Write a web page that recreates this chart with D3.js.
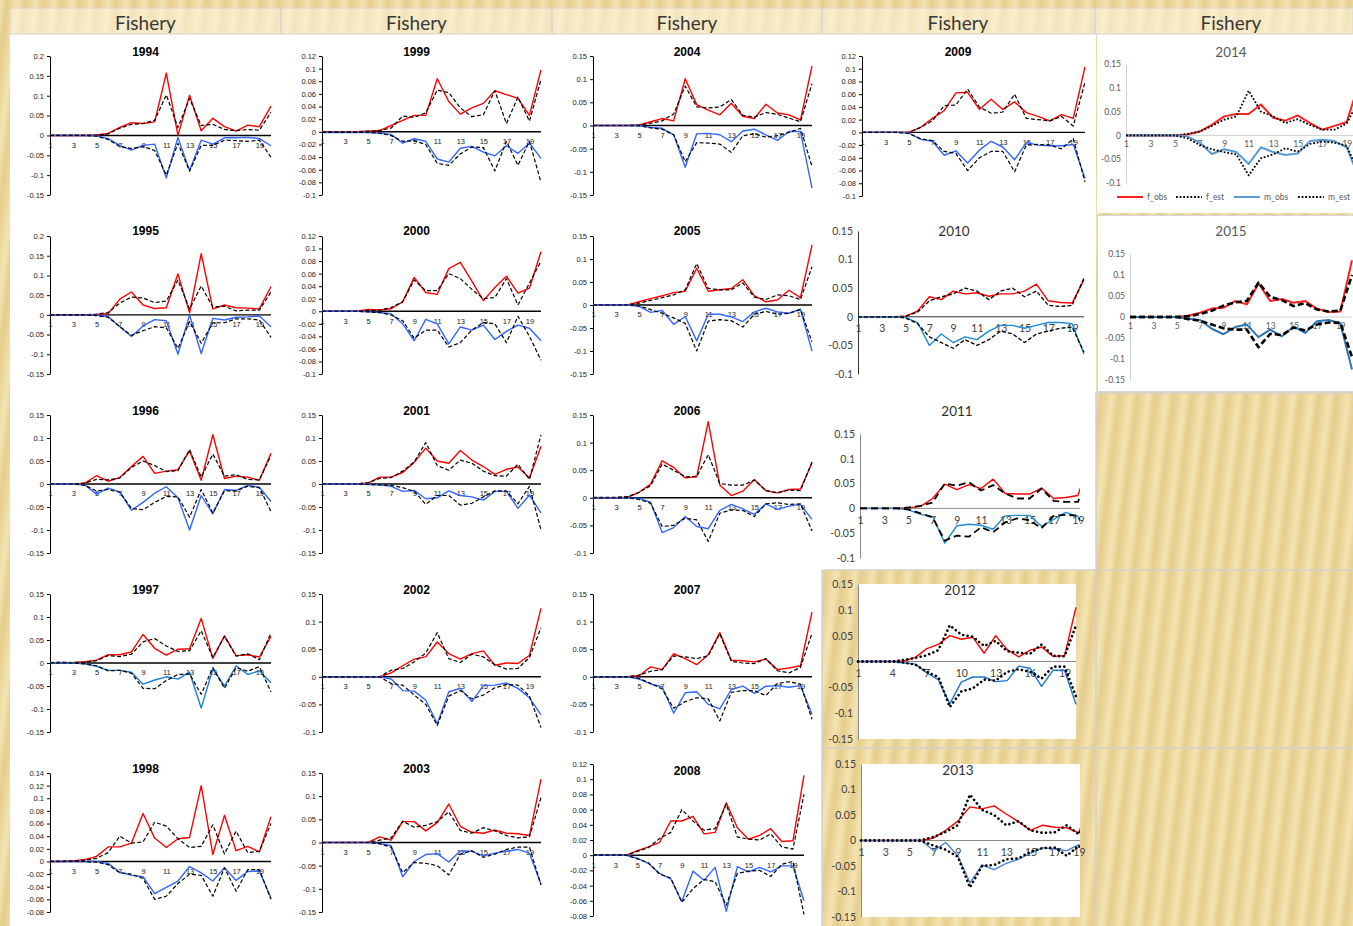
<!DOCTYPE html>
<html>
<head>
<meta charset="utf-8">
<script src="https://cdn.jsdelivr.net/npm/d3@7"></script>
<style>
  html, body { margin: 0; padding: 0; background: #ecd9a0; }
  svg { display: block; }
</style>
</head>
<body>
<svg id="chart" width="1353" height="926"></svg>
<script>
// ---------- data ----------
const years = [1994,1995,1996,1997,1998,1999,2000,2001,2002,2003,2004,2005,2006,2007,2008,2009,2010,2011,2012,2013,2014,2015];
const ages = [1,2,3,4,5,6,7,8,9,10,11,12,13,14,15,16,17,18,19,20];
const oddLabels = [1,3,5,7,9,11,13,15,17,19];
const everyThirdLabels = [1,4,7,10,13,16,19];
const seriesNames = ["f_obs","f_est","m_obs","m_est"];
const headerText = "Fishery";

const yMax  = [0.2,0.2,0.15,0.15,0.14,0.12,0.12,0.15,0.15,0.15,0.15,0.15,0.15,0.15,0.12,0.12,0.15,0.15,0.15,0.15,0.15,0.15];
const yMin  = [-0.15,-0.15,-0.15,-0.15,-0.08,-0.1,-0.1,-0.15,-0.1,-0.15,-0.15,-0.15,-0.1,-0.1,-0.08,-0.1,-0.1,-0.1,-0.15,-0.15,-0.1,-0.15];
const yStep = [0.05,0.05,0.05,0.05,0.02,0.02,0.02,0.05,0.05,0.05,0.05,0.05,0.05,0.05,0.02,0.02,0.05,0.05,0.05,0.05,0.05,0.05];

// female observed proportions, one row per year
const fObs = [
  [0,0,0,0,0.001,0.005,0.02,0.032,0.03,0.034,0.157,0.0,0.101,0.012,0.043,0.022,0.011,0.026,0.022,0.074],
  [0,0,0,0,0.001,0.003,0.04,0.058,0.025,0.016,0.018,0.104,0.005,0.155,0.015,0.025,0.018,0.017,0.015,0.072],
  [0,0,0,0.002,0.018,0.006,0.014,0.038,0.06,0.023,0.028,0.031,0.072,0.008,0.107,0.012,0.017,0.015,0.008,0.067],
  [0,0,0.001,0.003,0.006,0.018,0.018,0.024,0.062,0.032,0.017,0.03,0.031,0.097,0.01,0.059,0.016,0.018,0.013,0.058],
  [0,0,0.001,0.003,0.008,0.023,0.023,0.029,0.076,0.037,0.022,0.036,0.038,0.12,0.011,0.073,0.017,0.024,0.015,0.071],
  [0,0,0,0,0.001,0.002,0.01,0.018,0.026,0.026,0.084,0.048,0.028,0.038,0.045,0.065,0.059,0.053,0.026,0.098],
  [0,0,0,0,0.003,0.002,0.004,0.015,0.054,0.03,0.027,0.068,0.078,0.048,0.017,0.038,0.056,0.029,0.037,0.095],
  [0,0,0,0,0.002,0.015,0.015,0.025,0.047,0.078,0.05,0.045,0.073,0.052,0.038,0.021,0.032,0.037,0.013,0.082],
  [0,0,0,0,0,0,0.007,0.02,0.032,0.036,0.063,0.042,0.032,0.042,0.047,0.021,0.025,0.024,0.039,0.124],
  [0,0,0,0,0,0.012,0.005,0.045,0.045,0.025,0.043,0.083,0.035,0.022,0.02,0.027,0.02,0.019,0.015,0.137],
  [0,0,0,0,0.001,0.008,0.015,0.01,0.101,0.045,0.033,0.023,0.048,0.02,0.015,0.046,0.027,0.023,0.012,0.128],
  [0,0,0,0,0.007,0.014,0.02,0.027,0.03,0.08,0.03,0.033,0.036,0.055,0.02,0.007,0.011,0.032,0.016,0.13],
  [0,0,0,0.001,0.01,0.025,0.067,0.055,0.036,0.038,0.138,0.023,0.004,0.012,0.033,0.013,0.009,0.015,0.016,0.063],
  [0,0,0,0,0.002,0.018,0.013,0.042,0.033,0.022,0.04,0.08,0.03,0.029,0.027,0.032,0.013,0.016,0.02,0.117],
  [0,0,0,0,0.006,0.011,0.017,0.045,0.045,0.051,0.028,0.03,0.069,0.036,0.021,0.026,0.035,0.018,0.019,0.105],
  [0,0,0,0,0,0.008,0.022,0.034,0.062,0.063,0.036,0.052,0.036,0.048,0.031,0.025,0.018,0.028,0.022,0.103],
  [0,0,0,0,0.001,0.01,0.035,0.03,0.045,0.04,0.042,0.036,0.04,0.04,0.045,0.057,0.028,0.025,0.024,0.065],
  [0,0,0,0,0.001,0.004,0.02,0.049,0.038,0.048,0.04,0.059,0.03,0.029,0.029,0.041,0.02,0.022,0.026,0.1],
  [0,0,0,0,0.001,0.008,0.025,0.033,0.05,0.043,0.047,0.016,0.05,0.023,0.009,0.022,0.028,0.01,0.011,0.105],
  [0,0,0,0,0,0,0.005,0.02,0.038,0.066,0.062,0.068,0.052,0.037,0.02,0.03,0.026,0.025,0.015,0.09],
  [0,0,0,0,0,0.002,0.008,0.022,0.04,0.045,0.045,0.065,0.037,0.031,0.042,0.026,0.012,0.02,0.028,0.11],
  [0,0,0,0,0,0.003,0.01,0.02,0.022,0.038,0.03,0.08,0.038,0.043,0.034,0.038,0.02,0.012,0.013,0.135]
];
// female estimated proportions
const fEst = [
  [0,0,0,0,0.001,0.004,0.018,0.028,0.03,0.038,0.102,0.02,0.093,0.025,0.028,0.015,0.012,0.015,0.013,0.058],
  [0,0,0,0,0.002,0.006,0.03,0.045,0.043,0.031,0.035,0.088,0.015,0.073,0.02,0.022,0.01,0.012,0.012,0.058],
  [0,0,0,0.002,0.01,0.009,0.013,0.036,0.05,0.04,0.027,0.029,0.075,0.015,0.065,0.017,0.02,0.01,0.009,0.062],
  [0.001,0.002,0.001,0.002,0.005,0.016,0.014,0.019,0.046,0.053,0.037,0.025,0.027,0.07,0.012,0.058,0.015,0.02,0.007,0.066],
  [0,0,0.001,0.002,0.005,0.014,0.04,0.029,0.031,0.062,0.056,0.036,0.022,0.024,0.058,0.012,0.048,0.014,0.016,0.06],
  [0,0,0,0,0.001,0.002,0.006,0.025,0.023,0.03,0.066,0.062,0.038,0.024,0.027,0.065,0.013,0.055,0.017,0.083],
  [0,0,0,0,0.001,0.002,0.006,0.015,0.05,0.033,0.033,0.06,0.052,0.035,0.02,0.022,0.052,0.01,0.045,0.08],
  [0,0,0,0,0.003,0.012,0.014,0.028,0.048,0.09,0.04,0.03,0.052,0.045,0.028,0.018,0.017,0.043,0.01,0.107],
  [0,0,0,0,0,0,0.012,0.015,0.027,0.043,0.08,0.033,0.026,0.041,0.036,0.022,0.014,0.015,0.035,0.089],
  [0,0,0,0,0,0.005,0.01,0.046,0.033,0.037,0.045,0.066,0.026,0.02,0.032,0.025,0.015,0.01,0.012,0.097],
  [0,0,0,0,0.001,0.005,0.01,0.025,0.085,0.04,0.038,0.04,0.056,0.022,0.018,0.028,0.024,0.016,0.008,0.09],
  [0,0,0,0.001,0.004,0.01,0.016,0.022,0.033,0.09,0.036,0.033,0.033,0.048,0.017,0.012,0.022,0.02,0.012,0.083],
  [0.001,0.001,0.001,0.002,0.01,0.022,0.061,0.05,0.038,0.039,0.078,0.026,0.023,0.023,0.032,0.013,0.009,0.014,0.013,0.065],
  [0,0,0,0,0.003,0.01,0.013,0.038,0.036,0.033,0.038,0.078,0.028,0.025,0.024,0.033,0.011,0.007,0.017,0.079],
  [0,0,0,0,0.005,0.01,0.022,0.03,0.06,0.045,0.033,0.035,0.067,0.024,0.021,0.02,0.028,0.011,0.008,0.08],
  [0,0,0,0,0,0.008,0.018,0.042,0.043,0.068,0.04,0.03,0.032,0.06,0.022,0.02,0.018,0.025,0.01,0.079],
  [0,0,0,0,0.001,0.008,0.028,0.035,0.04,0.05,0.045,0.03,0.045,0.05,0.035,0.045,0.02,0.018,0.02,0.068],
  [0,0,0,0,0.002,0.005,0.012,0.05,0.046,0.053,0.036,0.047,0.03,0.02,0.02,0.04,0.015,0.013,0.013,0.07],
  [0,0,0,0,0.003,0.007,0.012,0.022,0.07,0.052,0.048,0.03,0.04,0.02,0.017,0.015,0.033,0.011,0.01,0.07],
  [0,0,0,0,0,0.001,0.007,0.017,0.03,0.09,0.06,0.05,0.03,0.038,0.02,0.015,0.016,0.03,0.012,0.07],
  [0,0,0,0,0,0.003,0.008,0.02,0.033,0.04,0.094,0.05,0.04,0.026,0.034,0.022,0.012,0.012,0.025,0.075],
  [0,0,0,0,0,0.002,0.007,0.015,0.027,0.035,0.038,0.082,0.048,0.04,0.026,0.033,0.018,0.013,0.015,0.1]
];
// male observed proportions (plotted as negatives)
const mObs = [
  [0,0,0,0,-0.001,-0.008,-0.025,-0.037,-0.025,-0.022,-0.107,-0.005,-0.088,-0.012,-0.022,-0.006,-0.006,-0.005,-0.008,-0.026],
  [0,0,0,0,-0.001,-0.004,-0.03,-0.055,-0.028,-0.012,-0.015,-0.1,0,-0.098,-0.009,-0.013,-0.006,-0.005,-0.003,-0.03],
  [0,0,0,-0.002,-0.022,-0.009,-0.017,-0.057,-0.04,-0.02,-0.006,-0.03,-0.1,-0.025,-0.065,-0.012,-0.014,-0.003,-0.007,-0.038],
  [0,0,0,-0.002,-0.007,-0.016,-0.016,-0.02,-0.046,-0.037,-0.03,-0.035,-0.02,-0.098,-0.013,-0.05,-0.006,-0.025,-0.017,-0.043],
  [0,0,0,0,0,-0.003,-0.017,-0.022,-0.024,-0.051,-0.041,-0.031,-0.008,-0.018,-0.031,-0.01,-0.03,-0.016,-0.015,-0.058],
  [-0.001,-0.001,-0.001,-0.001,-0.001,-0.002,-0.004,-0.018,-0.011,-0.015,-0.043,-0.048,-0.026,-0.023,-0.032,-0.038,-0.022,-0.034,-0.018,-0.042],
  [0,0,0,0,-0.001,-0.002,-0.004,-0.02,-0.047,-0.013,-0.02,-0.052,-0.025,-0.03,-0.022,-0.045,-0.032,-0.022,-0.027,-0.047],
  [0,0,0,0,-0.001,-0.002,-0.005,-0.016,-0.014,-0.032,-0.03,-0.015,-0.025,-0.028,-0.035,-0.016,-0.016,-0.053,-0.024,-0.063],
  [0,0,0,0,0,0,-0.004,-0.025,-0.026,-0.042,-0.085,-0.027,-0.021,-0.045,-0.016,-0.015,-0.011,-0.021,-0.038,-0.069],
  [0,0,0,0,0,-0.002,-0.007,-0.074,-0.041,-0.026,-0.024,-0.042,-0.018,-0.019,-0.029,-0.023,-0.019,-0.015,-0.023,-0.09],
  [0,0,0,0,0,-0.004,-0.006,-0.02,-0.09,-0.018,-0.017,-0.02,-0.035,-0.012,-0.008,-0.02,-0.032,-0.013,-0.013,-0.135],
  [0,0,0,0,-0.003,-0.016,-0.012,-0.042,-0.025,-0.078,-0.02,-0.02,-0.026,-0.036,-0.015,-0.007,-0.015,-0.018,-0.009,-0.1],
  [0,0,0,0,-0.001,-0.008,-0.063,-0.054,-0.034,-0.052,-0.056,-0.023,-0.012,-0.02,-0.03,-0.011,-0.021,-0.015,-0.012,-0.039],
  [0,0,0,0,-0.004,-0.013,-0.018,-0.066,-0.029,-0.027,-0.05,-0.058,-0.023,-0.017,-0.03,-0.017,-0.016,-0.019,-0.016,-0.068],
  [0,0,0,0,-0.004,-0.011,-0.024,-0.031,-0.061,-0.021,-0.033,-0.016,-0.074,-0.015,-0.022,-0.016,-0.022,-0.014,-0.014,-0.06],
  [0,0,0,0,-0.001,-0.011,-0.014,-0.036,-0.029,-0.048,-0.028,-0.014,-0.023,-0.043,-0.016,-0.02,-0.021,-0.021,-0.019,-0.072],
  [0,0,0,0,-0.001,-0.01,-0.05,-0.03,-0.045,-0.035,-0.04,-0.025,-0.015,-0.015,-0.02,-0.015,-0.01,-0.01,-0.012,-0.065],
  [0,0,0,0,-0.003,-0.012,-0.016,-0.07,-0.035,-0.032,-0.034,-0.042,-0.015,-0.014,-0.014,-0.036,-0.022,-0.008,-0.016,-0.07],
  [0,0,0,0,-0.003,-0.005,-0.022,-0.035,-0.082,-0.04,-0.03,-0.03,-0.039,-0.037,-0.009,-0.013,-0.048,-0.017,-0.017,-0.083],
  [0,0,0,0,0,0,-0.02,-0.004,-0.03,-0.083,-0.048,-0.057,-0.045,-0.037,-0.025,-0.014,-0.017,-0.02,-0.008,-0.06],
  [0,0,0,0,0,-0.002,-0.015,-0.039,-0.029,-0.035,-0.06,-0.025,-0.035,-0.041,-0.038,-0.012,-0.009,-0.012,-0.025,-0.09],
  [0,0,0,0,0,-0.004,-0.007,-0.028,-0.041,-0.024,-0.018,-0.048,-0.03,-0.046,-0.023,-0.038,-0.01,-0.007,-0.015,-0.125]
];
// male estimated proportions (plotted as negatives)
const mEst = [
  [0,0,0,0,-0.002,-0.01,-0.028,-0.033,-0.028,-0.038,-0.1,-0.02,-0.09,-0.025,-0.025,-0.012,-0.013,-0.015,-0.012,-0.055],
  [0,0,0,0,-0.002,-0.006,-0.03,-0.052,-0.04,-0.03,-0.033,-0.085,-0.017,-0.072,-0.02,-0.02,-0.01,-0.01,-0.013,-0.057],
  [0,0,0,-0.003,-0.015,-0.012,-0.018,-0.053,-0.056,-0.04,-0.027,-0.028,-0.072,-0.012,-0.063,-0.015,-0.015,-0.005,-0.008,-0.06],
  [0,0,0,-0.002,-0.006,-0.017,-0.016,-0.022,-0.055,-0.056,-0.038,-0.025,-0.024,-0.068,-0.01,-0.055,-0.01,-0.018,-0.008,-0.063],
  [0,0,0,0,-0.001,-0.005,-0.018,-0.02,-0.027,-0.06,-0.055,-0.035,-0.02,-0.022,-0.055,-0.01,-0.047,-0.013,-0.013,-0.06],
  [-0.001,-0.001,-0.001,-0.001,-0.001,-0.002,-0.006,-0.015,-0.014,-0.02,-0.05,-0.053,-0.035,-0.024,-0.025,-0.062,-0.015,-0.053,-0.015,-0.08],
  [0,0,0,0,-0.001,-0.002,-0.006,-0.015,-0.043,-0.03,-0.03,-0.057,-0.05,-0.03,-0.018,-0.02,-0.05,-0.008,-0.04,-0.078],
  [0,0,0,0,-0.001,-0.002,-0.003,-0.008,-0.016,-0.044,-0.025,-0.025,-0.046,-0.042,-0.028,-0.015,-0.015,-0.043,-0.005,-0.1],
  [0,0,0,0,0,0,-0.012,-0.015,-0.033,-0.05,-0.088,-0.035,-0.025,-0.04,-0.033,-0.02,-0.014,-0.015,-0.035,-0.092],
  [0,0,0,0,0,-0.003,-0.01,-0.065,-0.043,-0.045,-0.05,-0.07,-0.025,-0.018,-0.032,-0.025,-0.015,-0.01,-0.01,-0.092],
  [0,0,0,0,-0.001,-0.005,-0.008,-0.02,-0.078,-0.037,-0.038,-0.04,-0.058,-0.022,-0.018,-0.025,-0.022,-0.015,-0.006,-0.088],
  [0,0,0,0,-0.002,-0.01,-0.018,-0.028,-0.04,-0.1,-0.035,-0.032,-0.034,-0.048,-0.02,-0.014,-0.02,-0.018,-0.01,-0.08],
  [0,0,0,0,-0.003,-0.01,-0.052,-0.05,-0.037,-0.04,-0.079,-0.028,-0.022,-0.023,-0.034,-0.011,-0.009,-0.012,-0.011,-0.06],
  [0,0,0,0,-0.003,-0.012,-0.022,-0.057,-0.045,-0.038,-0.04,-0.08,-0.028,-0.025,-0.025,-0.034,-0.012,-0.009,-0.013,-0.077],
  [0,0,0,0,-0.005,-0.01,-0.025,-0.03,-0.062,-0.044,-0.032,-0.035,-0.066,-0.024,-0.021,-0.02,-0.028,-0.012,-0.008,-0.078],
  [0,0,0,0,-0.002,-0.01,-0.013,-0.03,-0.033,-0.06,-0.04,-0.03,-0.03,-0.062,-0.02,-0.019,-0.02,-0.026,-0.01,-0.078],
  [0,0,0,0,-0.002,-0.012,-0.035,-0.045,-0.055,-0.04,-0.05,-0.04,-0.025,-0.03,-0.045,-0.03,-0.025,-0.02,-0.018,-0.062],
  [0,0,0,0,-0.002,-0.01,-0.018,-0.065,-0.055,-0.057,-0.038,-0.048,-0.028,-0.02,-0.024,-0.04,-0.015,-0.013,-0.015,-0.06],
  [0,0,0,0,-0.002,-0.006,-0.02,-0.03,-0.088,-0.058,-0.052,-0.035,-0.037,-0.02,-0.015,-0.02,-0.033,-0.01,-0.01,-0.068],
  [0,0,0,0,0,-0.001,-0.01,-0.018,-0.032,-0.092,-0.05,-0.048,-0.037,-0.035,-0.022,-0.015,-0.014,-0.03,-0.01,-0.06],
  [0,0,0,0,0,-0.006,-0.02,-0.029,-0.035,-0.04,-0.084,-0.048,-0.04,-0.027,-0.034,-0.018,-0.013,-0.015,-0.022,-0.08],
  [0,0,0,0,0,-0.005,-0.009,-0.018,-0.027,-0.03,-0.03,-0.072,-0.04,-0.043,-0.025,-0.032,-0.018,-0.013,-0.014,-0.095]
];

// ---------- layout ----------
const W = 1353, H = 926;
const cellCenterX = [145.5, 416.5, 687, 958, 1231];
const colAxisX = [50, 322, 593];
const colEndX = [271, 541, 812];
const rowTopY = [56, 236, 415, 594, 773];
const rowBotY = [195, 374, 553, 732, 912];
const rowTitleY = [52, 231, 411, 590, 769];

const frameOverrides = {
  2008: {x0: 593, x20: 804, yT: 764, yB: 916, tY: 771},
  2009: {x0: 862, x20: 1085, yT: 56, yB: 196},
  2010: {x0: 858, x20: 1084, yT: 231, yB: 374, tX: 954, tY: 231},
  2011: {x0: 860, x20: 1090, yT: 434, yB: 558, tX: 957, tY: 411, clipX: 1080},
  2012: {x0: 858, x20: 1076, yT: 584, yB: 739, tX: 960, tY: 590, box: [858, 584, 1076, 739]},
  2013: {x0: 861, x20: 1091, yT: 764, yB: 917, tX: 958, tY: 770, clipX: 1080, box: [861, 764, 1080, 917]},
  2014: {x0: 1126, x20: 1359, yT: 64, yB: 183, tX: 1231, tY: 52},
  2015: {x0: 1130, x20: 1352, yT: 254, yB: 380, tX: 1231, tY: 231}
};

function frameFor(i) {
  const yr = years[i];
  const col = Math.floor(i / 5), row = i % 5;
  const base = {
    x0: colAxisX[Math.min(col, 2)], x20: colEndX[Math.min(col, 2)],
    yT: rowTopY[row], yB: rowBotY[row],
    tX: cellCenterX[col], tY: rowTitleY[row]
  };
  return Object.assign(base, frameOverrides[yr] || {});
}

// ---------- styles ----------
const ARIAL = '"Liberation Sans", Arial, sans-serif';
const CALIBRI = 'Lato, "Open Sans", sans-serif';

function styleFor(yr) {
  if (yr <= 2009) {
    return {
      font: ARIAL, tickFont: 7.5, tickColor: "#222", axisColor: "#000", yTick: 3,
      titleFont: ARIAL, titleSize: 12, titleWeight: "bold", titleColor: "#000",
      xAxisWidth: 1.4, yAxisWidth: 1, xPad: 7,
      red: "#ff0000", blue: yr === 1997 ? "#1a7fd4" : "#3366ff", obsW: 1.4,
      est: {w: 1.2, dash: "4,2.2", cap: "butt"}, xLabels: oddLabels
    };
  }
  if (yr <= 2013) {
    const blues = {2010: "#1c8ad2", 2011: "#1f8bd3", 2012: "#1b74cf", 2013: "#4a84d4"};
    const ests = {
      2010: {w: 1.3, dash: "4,2", cap: "butt"},
      2011: {w: 1.8, dash: "7,4", cap: "butt"},
      2012: {w: 2.6, dash: "0.1,4.4", cap: "round"},
      2013: {w: 2.6, dash: "0.1,4.4", cap: "round"}
    };
    return {
      font: CALIBRI, tickFont: 10.5, tickColor: "#404040",
      axisColor: yr === 2010 ? "#333" : "#8a8a8a", yTick: 0,
      titleFont: CALIBRI, titleSize: 13.5, titleWeight: "normal", titleColor: "#303030",
      xAxisWidth: 1, yAxisWidth: 1, xPad: 8,
      red: "#ff0000", blue: blues[yr], obsW: 1.4,
      est: ests[yr], xLabels: yr === 2012 ? everyThirdLabels : oddLabels
    };
  }
  return {
    font: CALIBRI, tickFont: 8.5, tickColor: "#595959", axisColor: "#d0d0d0", yTick: 0,
    titleFont: CALIBRI, titleSize: 13.5, titleWeight: "normal", titleColor: "#595959",
    xAxisWidth: 1, yAxisWidth: 1, xPad: 6,
    red: "#ff2020", blue: yr === 2014 ? "#5b9bd5" : "#2e75b6", obsW: 2,
    est: yr === 2014 ? {w: 1.8, dash: "1.8,1.8", cap: "butt"} : {w: 2.6, dash: "6,3", cap: "butt"},
    xLabels: oddLabels
  };
}

const fmt = v => String(+v.toFixed(3));

// ---------- canvas ----------
const svg = d3.select("#chart");
const defs = svg.append("defs");

// striped gold backdrop
const grad = defs.append("linearGradient").attr("id", "stripeGrad")
  .attr("x1", "0").attr("x2", "1").attr("y1", "0").attr("y2", "0");
[["0%", "#f4e4b2"], ["40%", "#e5cd8d"], ["70%", "#ecd79e"], ["100%", "#f4e4b2"]]
  .forEach(([o, c]) => grad.append("stop").attr("offset", o).attr("stop-color", c));
const pat = defs.append("pattern").attr("id", "stripes").attr("patternUnits", "userSpaceOnUse")
  .attr("width", 18).attr("height", 40).attr("patternTransform", "rotate(7)");
pat.append("rect").attr("width", 18).attr("height", 40).attr("fill", "url(#stripeGrad)");

svg.append("rect").attr("width", W).attr("height", H).attr("fill", "url(#stripes)");

// white sheet areas
const sheet = svg.append("g");
sheet.append("rect").attr("x", 10).attr("y", 34).attr("width", 812).attr("height", H - 34).attr("fill", "#fff");
sheet.append("rect").attr("x", 822).attr("y", 34).attr("width", 274).attr("height", 536).attr("fill", "#fff");
sheet.append("rect").attr("x", 1097).attr("y", 34).attr("width", W - 1097).attr("height", 179).attr("fill", "#fff");
sheet.append("rect").attr("x", 1097.5).attr("y", 215.5).attr("width", W - 1097 + 5).attr("height", 176)
  .attr("fill", "#fff").attr("stroke", "#d4d4d4").attr("stroke-width", 1);

// table grid lines over the textured cells
const gridColor = "#d3d1cc";
const grid = svg.append("g").attr("stroke", gridColor).attr("stroke-width", 1.5);
grid.append("line").attr("x1", 822).attr("x2", 822).attr("y1", 570).attr("y2", H);
grid.append("line").attr("x1", 1096).attr("x2", 1096).attr("y1", 392).attr("y2", H);
grid.append("line").attr("x1", 822).attr("x2", W).attr("y1", 570).attr("y2", 570);
grid.append("line").attr("x1", 822).attr("x2", W).attr("y1", 748).attr("y2", 748);
grid.append("line").attr("x1", 1096).attr("x2", W).attr("y1", 393).attr("y2", 393);

// header row
const header = svg.append("g");
header.append("rect").attr("x", 10).attr("y", 8).attr("width", W - 10).attr("height", 26)
  .attr("fill", "#fdf6e2").attr("fill-opacity", 0.55).attr("stroke", "#dcd8d0").attr("stroke-width", 1.2);
[281, 552, 822, 1095].forEach(x => header.append("line")
  .attr("x1", x).attr("x2", x).attr("y1", 8).attr("y2", 34)
  .attr("stroke", "#d6d5da").attr("stroke-width", 1.6));
header.selectAll("text.hdr").data(cellCenterX).join("text").attr("class", "hdr")
  .attr("x", d => d).attr("y", 22).attr("text-anchor", "middle").attr("dominant-baseline", "central")
  .attr("font-family", 'Lato, "Open Sans", sans-serif').attr("font-size", 19).attr("fill", "#383838")
  .text(headerText);

// ---------- panels ----------
years.forEach((yr, i) => {
  const fr = frameFor(i);
  const st = styleFor(yr);
  const g = svg.append("g").attr("class", "panel-" + yr);

  const x = d3.scaleLinear().domain([1, 20]).range([fr.x0, fr.x20]);
  const y = d3.scaleLinear().domain([yMin[i], yMax[i]]).range([fr.yB, fr.yT]);
  const nT = Math.round((yMax[i] - yMin[i]) / yStep[i]);
  const yTicks = d3.range(nT + 1).map(k => +(yMin[i] + k * yStep[i]).toFixed(4));

  if (fr.box) {
    const [bx0, by0, bx1, by1] = fr.box;
    g.append("rect").attr("x", bx0).attr("y", by0).attr("width", bx1 - bx0).attr("height", by1 - by0).attr("fill", "#fff");
  }

  // y axis
  const yAx = g.append("g").attr("transform", `translate(${fr.x0},0)`)
    .call(d3.axisLeft(y).tickValues(yTicks).tickFormat(fmt).tickSizeInner(st.yTick).tickSizeOuter(0).tickPadding(st.yTick ? 3 : 5));
  yAx.attr("font-family", st.font).attr("font-size", st.tickFont);
  yAx.select(".domain").attr("stroke", st.axisColor).attr("stroke-width", st.yAxisWidth);
  yAx.selectAll(".tick line").attr("stroke", st.axisColor);
  yAx.selectAll(".tick text").attr("fill", st.tickColor);

  // x axis along zero
  const xEnd = fr.clipX ? Math.min(fr.clipX, fr.x20) : Math.min(fr.x20, W);
  const xAx = g.append("g").attr("transform", `translate(0,${y(0)})`)
    .call(d3.axisBottom(x).tickValues(st.xLabels).tickFormat(d => d).tickSize(0).tickPadding(st.xPad));
  xAx.attr("font-family", st.font).attr("font-size", st.tickFont);
  xAx.select(".domain").attr("d", `M${fr.x0},0H${xEnd}`)
    .attr("stroke", st.axisColor).attr("stroke-width", st.xAxisWidth);
  xAx.selectAll(".tick text").attr("fill", st.tickColor);

  // title
  g.append("text").attr("x", fr.tX).attr("y", fr.tY)
    .attr("text-anchor", "middle").attr("dominant-baseline", "central")
    .attr("font-family", st.titleFont).attr("font-size", st.titleSize)
    .attr("font-weight", st.titleWeight).attr("fill", st.titleColor).text(yr);

  // series
  const clipId = "clip-" + yr;
  defs.append("clipPath").attr("id", clipId).append("rect")
    .attr("x", fr.x0 - 3).attr("y", fr.yT - 20)
    .attr("width", (fr.clipX ? fr.clipX : W) - fr.x0 + 3).attr("height", fr.yB - fr.yT + 40);
  const lines = g.append("g").attr("clip-path", `url(#${clipId})`).attr("fill", "none")
    .attr("stroke-linejoin", "round");
  const line = d3.line().x((d, j) => x(ages[j])).y(d => y(d));

  const drawObs = (vals, color) => lines.append("path").datum(vals).attr("d", line)
    .attr("stroke", color).attr("stroke-width", st.obsW);
  const drawEst = vals => lines.append("path").datum(vals).attr("d", line)
    .attr("stroke", "#000").attr("stroke-width", st.est.w)
    .attr("stroke-dasharray", st.est.dash).attr("stroke-linecap", st.est.cap);

  drawObs(fObs[i], st.red);
  drawEst(fEst[i]);
  drawObs(mObs[i], st.blue);
  drawEst(mEst[i]);

  // legend under the 2014 panel
  if (yr === 2014) {
    const items = [
      {name: seriesNames[0], color: st.red, est: false, x: 1117},
      {name: seriesNames[1], color: "#000", est: true, x: 1176},
      {name: seriesNames[2], color: st.blue, est: false, x: 1234},
      {name: seriesNames[3], color: "#000", est: true, x: 1298}
    ];
    const lg = g.append("g");
    items.forEach(it => {
      const l = lg.append("line").attr("x1", it.x).attr("x2", it.x + 26).attr("y1", 197).attr("y2", 197)
        .attr("stroke", it.color).attr("stroke-width", it.est ? st.est.w : st.obsW);
      if (it.est) l.attr("stroke-dasharray", st.est.dash);
      lg.append("text").attr("x", it.x + 30).attr("y", 197).attr("dominant-baseline", "central")
        .attr("font-family", st.font).attr("font-size", 8.5).attr("fill", "#595959").text(it.name);
    });
  }
});
</script>
</body>
</html>
